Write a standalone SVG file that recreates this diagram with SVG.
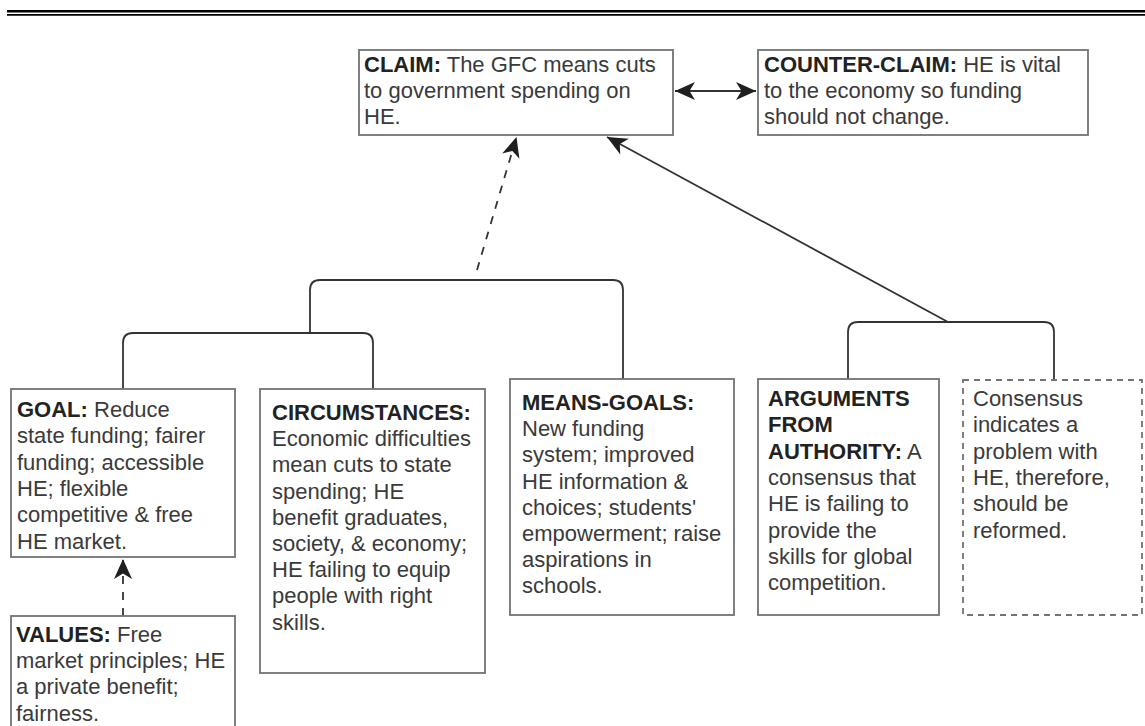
<svg xmlns="http://www.w3.org/2000/svg" width="1145" height="726" viewBox="0 0 1145 726">
  <style>
    .box { fill: #ffffff; stroke: #737373; stroke-width: 1.8; }
    .dashbox { fill: #ffffff; stroke: #737373; stroke-width: 1.8; stroke-dasharray: 6 5; }
    .txt { font-family: "Liberation Sans", Arial, sans-serif; font-size: 22px; fill: #3a3a3a; }
    .b { font-weight: bold; fill: #222222; }
    .wire { fill: none; stroke: #333333; stroke-width: 1.8; }
    .dash { stroke-dasharray: 8 8; }
    .rule { stroke: #000000; }
  </style>
  <defs>
    <marker id="head" markerUnits="userSpaceOnUse" markerWidth="26" markerHeight="22" refX="0" refY="0" viewBox="-22 -11 26 22" orient="auto-start-reverse" overflow="visible">
      <path d="M0,0 L-20,-9 L-14.5,0 L-20,9 Z" fill="#1f1f1f"/>
    </marker>
  </defs>

  <rect width="1145" height="726" fill="#ffffff"/>

  <!-- page header rule -->
  <line class="rule" x1="7" y1="11.2" x2="1145" y2="11.2" stroke-width="2.4"/>
  <line class="rule" x1="7" y1="14.9" x2="1145" y2="14.9" stroke-width="1.9"/>

  <!-- connectors -->
  <g id="connectors">
    <!-- claim / counter-claim -->
    <line class="wire" x1="675" y1="91" x2="756" y2="91" marker-start="url(#head)" marker-end="url(#head)"/>
    <!-- premises to claim -->
    <line class="wire dash" x1="477" y1="270" x2="516.5" y2="137" marker-end="url(#head)"/>
    <!-- authority to claim -->
    <line class="wire" x1="948" y1="322" x2="607" y2="137" marker-end="url(#head)"/>
    <!-- values to goal -->
    <line class="wire dash" x1="123" y1="616" x2="123" y2="559" marker-end="url(#head)"/>
    <!-- brackets -->
    <path class="wire" d="M310,333 V290 Q310,280 320,280 H613 Q623,280 623,290 V379"/>
    <path class="wire" d="M123,389 V343 Q123,333 133,333 H363 Q373,333 373,343 V389"/>
    <path class="wire" d="M848,379 V332 Q848,322 858,322 H1044 Q1054,322 1054,332 V380"/>
  </g>

  <g id="claim">
    <rect class="box" x="359" y="50" width="314" height="85"/>
    <text class="txt">
      <tspan x="364" y="71.5"><tspan class="b">CLAIM:</tspan> The GFC means cuts</tspan>
      <tspan x="364" y="97.9">to government spending on</tspan>
      <tspan x="364" y="124.3">HE.</tspan>
    </text>
  </g>

  <g id="counter-claim">
    <rect class="box" x="758" y="50" width="330" height="85"/>
    <text class="txt">
      <tspan x="764" y="71.5"><tspan class="b">COUNTER-CLAIM:</tspan> HE is vital</tspan>
      <tspan x="764" y="97.9">to the economy so funding</tspan>
      <tspan x="764" y="124.3">should not change.</tspan>
    </text>
  </g>

  <g id="goal">
    <rect class="box" x="11" y="389" width="224" height="168"/>
    <text class="txt">
      <tspan x="17" y="417"><tspan class="b">GOAL:</tspan> Reduce</tspan>
      <tspan x="17" y="443.3">state funding; fairer</tspan>
      <tspan x="17" y="469.6">funding; accessible</tspan>
      <tspan x="17" y="495.9">HE; flexible</tspan>
      <tspan x="17" y="522.2">competitive &amp; free</tspan>
      <tspan x="17" y="548.5">HE market.</tspan>
    </text>
  </g>

  <g id="values">
    <rect class="box" x="11" y="616" width="224" height="130"/>
    <text class="txt">
      <tspan x="16" y="642"><tspan class="b">VALUES:</tspan> Free</tspan>
      <tspan x="16" y="668.2">market principles; HE</tspan>
      <tspan x="16" y="694.4">a private benefit;</tspan>
      <tspan x="16" y="720.6">fairness.</tspan>
    </text>
  </g>

  <g id="circumstances">
    <rect class="box" x="260" y="389" width="225" height="284"/>
    <text class="txt">
      <tspan x="272" y="420" class="b">CIRCUMSTANCES:</tspan>
      <tspan x="272" y="446.2">Economic difficulties</tspan>
      <tspan x="272" y="472.4">mean cuts to state</tspan>
      <tspan x="272" y="498.6">spending; HE</tspan>
      <tspan x="272" y="524.8">benefit graduates,</tspan>
      <tspan x="272" y="551">society, &amp; economy;</tspan>
      <tspan x="272" y="577.2">HE failing to equip</tspan>
      <tspan x="272" y="603.4">people with right</tspan>
      <tspan x="272" y="629.6">skills.</tspan>
    </text>
  </g>

  <g id="means-goals">
    <rect class="box" x="510" y="379" width="224" height="236"/>
    <text class="txt">
      <tspan x="522" y="410" class="b">MEANS-GOALS:</tspan>
      <tspan x="522" y="436.2">New funding</tspan>
      <tspan x="522" y="462.4">system; improved</tspan>
      <tspan x="522" y="488.6">HE information &amp;</tspan>
      <tspan x="522" y="514.8">choices; students'</tspan>
      <tspan x="522" y="541">empowerment; raise</tspan>
      <tspan x="522" y="567.2">aspirations in</tspan>
      <tspan x="522" y="593.4">schools.</tspan>
    </text>
  </g>

  <g id="authority">
    <rect class="box" x="758" y="379" width="181" height="236"/>
    <text class="txt">
      <tspan x="768" y="406" class="b">ARGUMENTS</tspan>
      <tspan x="768" y="432.3" class="b">FROM</tspan>
      <tspan x="768" y="458.6"><tspan class="b">AUTHORITY:</tspan> A</tspan>
      <tspan x="768" y="484.9">consensus that</tspan>
      <tspan x="768" y="511.2">HE is failing to</tspan>
      <tspan x="768" y="537.5">provide the</tspan>
      <tspan x="768" y="563.8">skills for global</tspan>
      <tspan x="768" y="590.1">competition.</tspan>
    </text>
  </g>

  <g id="consensus">
    <rect class="dashbox" x="963" y="380" width="179" height="235"/>
    <text class="txt">
      <tspan x="973" y="406">Consensus</tspan>
      <tspan x="973" y="432.3">indicates a</tspan>
      <tspan x="973" y="458.6">problem with</tspan>
      <tspan x="973" y="484.9">HE, therefore,</tspan>
      <tspan x="973" y="511.2">should be</tspan>
      <tspan x="973" y="537.5">reformed.</tspan>
    </text>
  </g>
</svg>
